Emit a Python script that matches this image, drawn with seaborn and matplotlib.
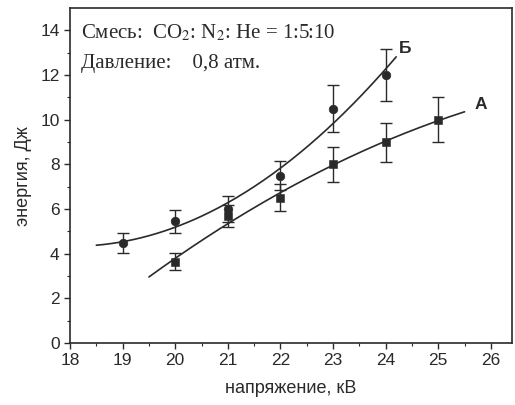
import numpy as np
import pandas as pd
import matplotlib
matplotlib.use("Agg")
import matplotlib.pyplot as plt
import seaborn as sns

# Data
x_b = [19, 20, 21, 22, 23, 24]
y_b = [4.5, 5.45, 6.0, 7.5, 10.5, 12.0]
err_b = [0.45, 0.53, 0.6, 0.65, 1.05, 1.15]

x_a = [20, 21, 22, 23, 24, 25]
y_a = [3.65, 5.7, 6.5, 8.0, 9.0, 10.0]
err_a = [0.38, 0.5, 0.6, 0.8, 0.87, 1.0]

fit_range_b = [18.5, 24.2]
fit_range_a = [19.5, 25.5]

x_ticks = [18, 19, 20, 21, 22, 23, 24, 25, 26]
y_ticks = [0, 2, 4, 6, 8, 10, 12, 14]

sns.set_theme(style="ticks")
plt.rcParams['font.family'] = ['Liberation Sans', 'DejaVu Sans']

fig = plt.figure(figsize=(5.15, 4.05), dpi=100)
ax = fig.add_axes([0.136, 0.153, 0.858, 0.827])

col = "#2a2a2a"

def fit_curve(xs, ys, rng, order=2):
    c = np.polyfit(xs, ys, order)
    xx = np.linspace(rng[0], rng[1], 200)
    return pd.DataFrame({"x": xx, "y": np.polyval(c, xx)})

cb = fit_curve(x_b, y_b, fit_range_b)
ca = fit_curve(x_a, y_a, fit_range_a)
sns.lineplot(data=cb, x="x", y="y", ax=ax, color=col, lw=1.2)
sns.lineplot(data=ca, x="x", y="y", ax=ax, color=col, lw=1.2)

ax.errorbar(x_b, y_b, yerr=err_b, fmt='none', ecolor=col, elinewidth=1.0, capsize=4, capthick=1.0)
ax.errorbar(x_a, y_a, yerr=err_a, fmt='none', ecolor=col, elinewidth=1.0, capsize=4, capthick=1.0)
sns.scatterplot(x=x_b, y=y_b, ax=ax, marker='o', s=38, color=col, edgecolor=col, zorder=5)
sns.scatterplot(x=x_a, y=y_a, ax=ax, marker='s', s=26, color=col, edgecolor=col, zorder=5)

ax.set_xlim(18, 26.4)
ax.set_ylim(0, 15)
ax.set_xticks(x_ticks)
ax.set_yticks(y_ticks)
ax.set_xticks(np.arange(18.5, 26.4, 1), minor=True)
ax.set_yticks(np.arange(1, 15, 2), minor=True)
ax.tick_params(axis='both', which='major', labelsize=12.5, colors=col, direction='out', length=4, width=1)
ax.tick_params(axis='both', which='minor', direction='out', length=2, width=0.8, colors=col)
for s in ax.spines.values():
    s.set_color(col)
    s.set_linewidth(1.2)
    s.set_visible(True)

ax.set_xlabel("напряжение, кВ", fontsize=13, color=col, labelpad=8)
ax.set_ylabel("энергия, Дж", fontsize=13, color=col, labelpad=6)

serif = ['Liberation Serif', 'DejaVu Serif']
ax.text(18.2, 13.9, r"Смесь:  CO$_2$: N$_2$: He = 1:5:10", family=serif, fontsize=15,
        color=col, va='center', ha='left', math_fontfamily='stix')
ax.text(18.2, 12.5, "Давление:    0,8 атм.", family=serif, fontsize=15,
        color=col, va='center', ha='left')

ax.text(24.37, 13.2, "Б", fontsize=12.5, color=col, fontweight='bold', ha='center', va='center')
ax.text(25.8, 10.7, "А", fontsize=12.5, color=col, fontweight='bold', ha='center', va='center')

fig.savefig("out.png", dpi=100)
